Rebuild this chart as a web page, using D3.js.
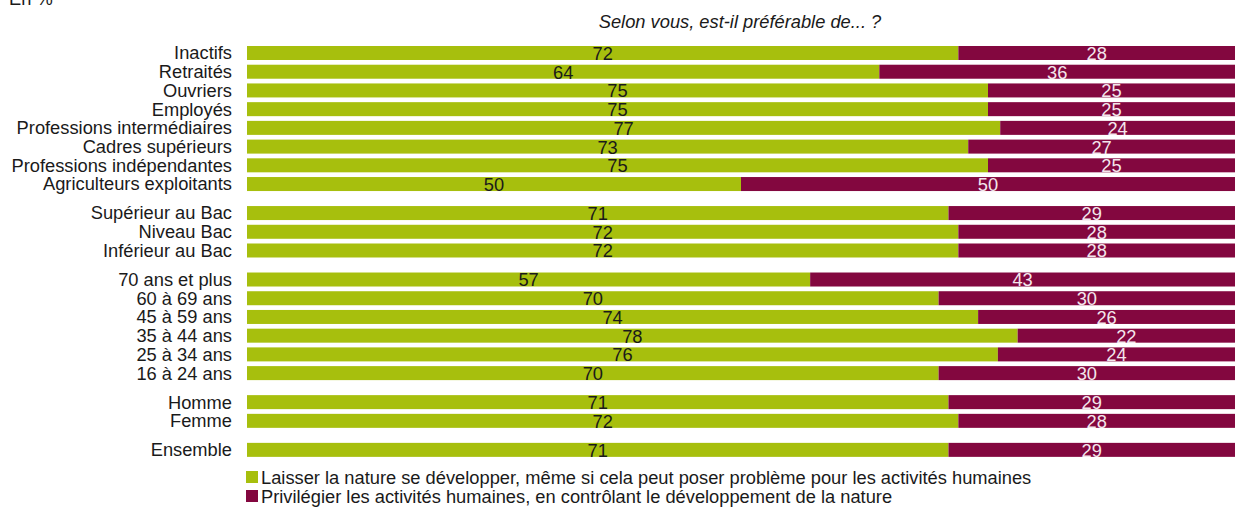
<!DOCTYPE html>
<html>
<head>
<meta charset="utf-8">
<script src="https://cdn.jsdelivr.net/npm/d3@7"></script>
<style>
  body { margin: 0; background: #fff; }
  svg { font-family: "Liberation Sans", Arial, Helvetica, sans-serif; }
</style>
</head>
<body>
<div id="chart"></div>
<script>
// categories, top to bottom, with the group each one belongs to
const categories = [
    "Inactifs", "Retraités", "Ouvriers", "Employés", "Professions intermédiaires",
    "Cadres supérieurs", "Professions indépendantes", "Agriculteurs exploitants",
    "Supérieur au Bac", "Niveau Bac", "Inférieur au Bac",
    "70 ans et plus", "60 à 69 ans", "45 à 59 ans", "35 à 44 ans", "25 à 34 ans", "16 à 24 ans",
    "Homme", "Femme",
    "Ensemble"
];
const groups = [0, 0, 0, 0, 0, 0, 0, 0, 1, 1, 1, 2, 2, 2, 2, 2, 2, 3, 3, 4];

// series values (in %)
const laisserNature = [72, 64, 75, 75, 77, 73, 75, 50, 71, 72, 72, 57, 70, 74, 78, 76, 70, 71, 72, 71];
const privilegierActivites = [28, 36, 25, 25, 24, 27, 25, 50, 29, 28, 28, 43, 30, 26, 22, 24, 30, 29, 28, 29];

const seriesNames = [
    "Laisser la nature se développer, même si cela peut poser problème pour les activités humaines",
    "Privilégier les activités humaines, en contrôlant le développement de la nature"
];
const title = "Selon vous, est-il préférable de... ?";
const unitLabel = "En %";

// layout
const width = 1236, height = 507;
const left = 247, right = 1235;
const rowStep = 18.72, barH = 14, groupGap = 0.55;
const firstRowCenter = 53;
const fontSize = 18.3;
const colors = ["#a7bf0d", "#83073f"];

const svg = d3.select("#chart").append("svg")
    .attr("width", width)
    .attr("height", height);

// rows with a slot index (groups get an extra gap between them)
let rows = categories.map((c, i) => ({
    cat: c,
    slot: i + groups[i] * groupGap,
    a: laisserNature[i],
    b: privilegierActivites[i]
}));

let stack = d3.stack().keys(["a", "b"]).offset(d3.stackOffsetExpand);
let stacked = stack(rows);

let x = d3.scaleLinear().domain([0, 1]).range([left, right]);
let y = d3.scaleLinear().domain([0, 1]).range([firstRowCenter, firstRowCenter + rowStep]);

// top texts
svg.append("text")
    .attr("x", 9).attr("y", 5)
    .attr("font-size", fontSize).attr("fill", "#1a1a1a")
    .text(unitLabel);

svg.append("text")
    .attr("x", 740).attr("y", 28)
    .attr("text-anchor", "middle")
    .attr("font-size", fontSize).attr("font-style", "italic").attr("fill", "#1a1a1a")
    .text(title);

// category labels
svg.append("g").selectAll("text")
    .data(rows)
    .join("text")
    .attr("x", 232)
    .attr("y", d => y(d.slot))
    .attr("dy", "0.35em")
    .attr("text-anchor", "end")
    .attr("font-size", fontSize)
    .attr("fill", "#1a1a1a")
    .text(d => d.cat);

// bars
let layers = svg.append("g").selectAll("g")
    .data(stacked)
    .join("g")
    .attr("fill", (d, i) => colors[i]);

layers.selectAll("rect")
    .data(d => d)
    .join("rect")
    .attr("x", d => x(d[0]))
    .attr("y", d => y(d.data.slot) - barH / 2)
    .attr("width", d => x(d[1]) - x(d[0]))
    .attr("height", barH);

// value labels
let labelColors = ["#1a1a1a", "#f3e6ec"];
stacked.forEach((layer, li) => {
    svg.append("g").selectAll("text")
        .data(layer)
        .join("text")
        .attr("x", d => (x(d[0]) + x(d[1])) / 2)
        .attr("y", d => y(d.data.slot))
        .attr("dy", "0.38em")
        .attr("text-anchor", "middle")
        .attr("font-size", fontSize)
        .attr("fill", labelColors[li])
        .text(d => d.data[layer.key]);
});

// legend
let legend = svg.append("g").selectAll("g")
    .data(seriesNames)
    .join("g")
    .attr("transform", (d, i) => "translate(246," + (471 + i * 19) + ")");
legend.append("rect")
    .attr("width", 12).attr("height", 12)
    .attr("fill", (d, i) => colors[i]);
legend.append("text")
    .attr("x", 15).attr("y", 12.5)
    .attr("font-size", fontSize).attr("fill", "#1a1a1a")
    .text(d => d);
</script>
</body>
</html>
